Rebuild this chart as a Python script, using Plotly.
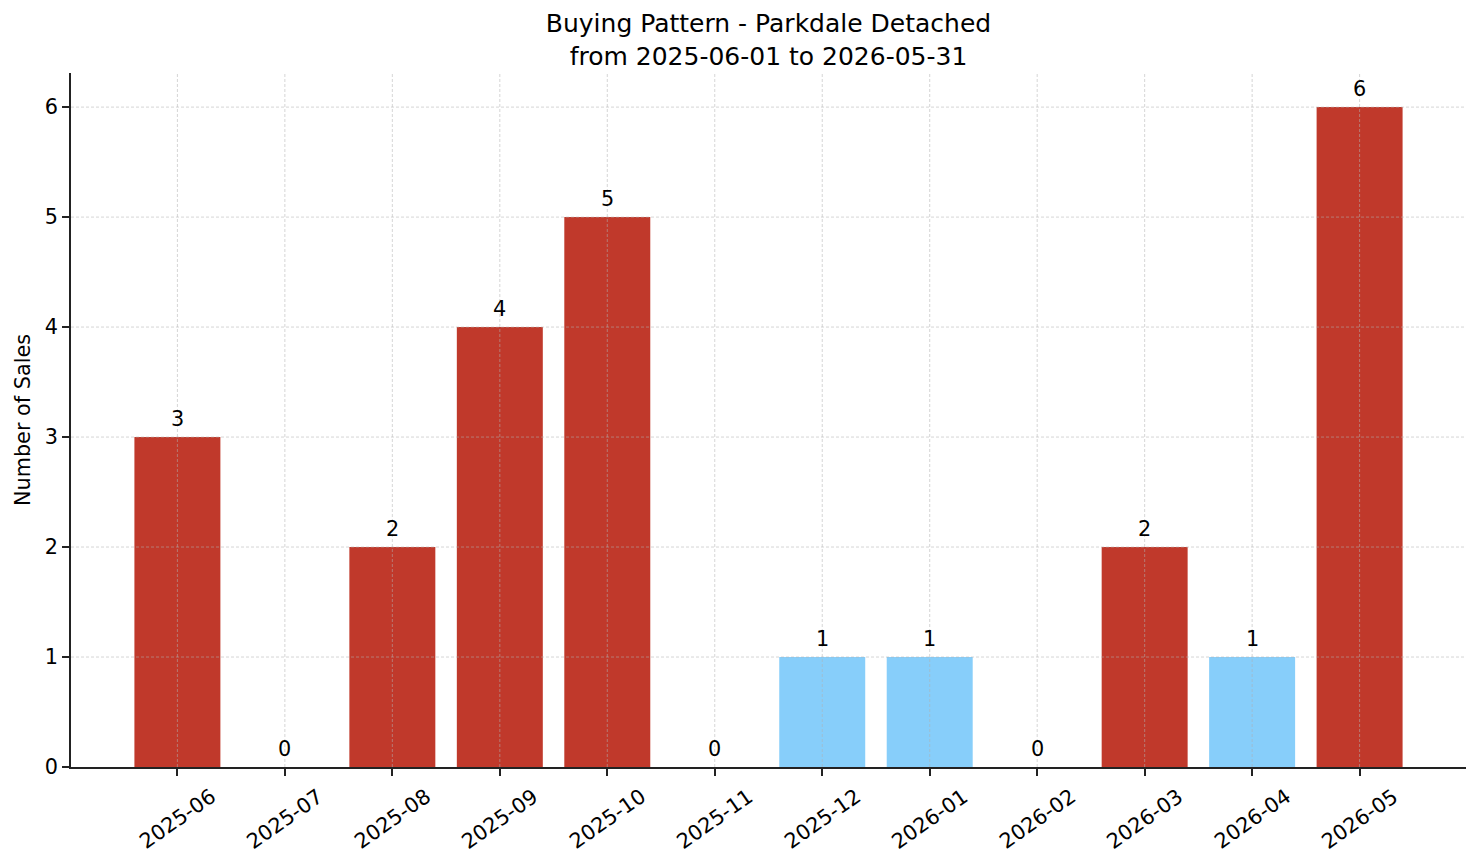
import plotly.graph_objects as go

months = ["2025-06", "2025-07", "2025-08", "2025-09", "2025-10", "2025-11",
          "2025-12", "2026-01", "2026-02", "2026-03", "2026-04", "2026-05"]
sales = [3, 0, 2, 4, 5, 0, 1, 1, 0, 2, 1, 6]
y_ticks = [0, 1, 2, 3, 4, 5, 6]

RED = "#c0392b"
BLUE = "#87cefa"
colors = [BLUE if v <= 1 else RED for v in sales]

FONT = "DejaVu Sans"
GRID = dict(color="rgba(176,176,176,0.6)", width=0.9, dash="3px,2px")

fig = go.Figure()
fig.add_trace(go.Bar(x=months, y=sales, marker_color=colors, width=0.8,
                     marker_line_width=0, showlegend=False))

# value labels above bars
for m, v in zip(months, sales):
    fig.add_annotation(x=m, y=v, text=str(v), showarrow=False, yanchor="bottom",
                       yshift=4, font=dict(family=FONT, size=20.8, color="black"))

# rotated month labels, centred under each tick (matplotlib style)
for m in months:
    fig.add_annotation(x=m, y=0, xref="x", yref="y", text=m, showarrow=False,
                       textangle=-35, xanchor="center", yanchor="top", yshift=-14,
                       font=dict(family=FONT, size=20.8, color="black"))

# grid drawn above bars, as in the reference
for m in months:
    fig.add_shape(type="line", xref="x", yref="paper", x0=m, x1=m, y0=0, y1=1,
                  line=GRID, layer="above")
for t in y_ticks[1:]:
    fig.add_shape(type="line", xref="paper", yref="y", x0=0, x1=1, y0=t, y1=t,
                  line=GRID, layer="above")

fig.update_layout(
    width=1481, height=863,
    margin=dict(l=71, r=15, t=73, b=96),
    plot_bgcolor="white", paper_bgcolor="white",
    font=dict(family=FONT, size=20.8, color="black"),
    title=dict(text="Buying Pattern - Parkdale Detached<br>from 2025-06-01 to 2026-05-31",
               x=0.5, xref="paper", xanchor="center",
               yref="container", y=1 - 32 / 863, yanchor="middle",
               font=dict(family=FONT, size=25, color="black")),
    bargap=0.2,
)
fig.update_xaxes(
    type="category", range=[-0.99, 11.99], showticklabels=False,
    showline=True, linecolor="#222", linewidth=1.7,
    ticks="outside", ticklen=7, tickwidth=1.7, tickcolor="#222",
    showgrid=False, zeroline=False,
)
fig.update_yaxes(
    range=[0, 6.31], tickvals=y_ticks,
    title=dict(text="Number of Sales", font=dict(family=FONT, size=20.8), standoff=8),
    showline=True, linecolor="#222", linewidth=1.7,
    ticks="outside", ticklen=7, tickwidth=1.7, tickcolor="#222",
    showgrid=False, zeroline=False,
    tickfont=dict(family=FONT, size=20.8),
)

fig.write_html("out.html")
